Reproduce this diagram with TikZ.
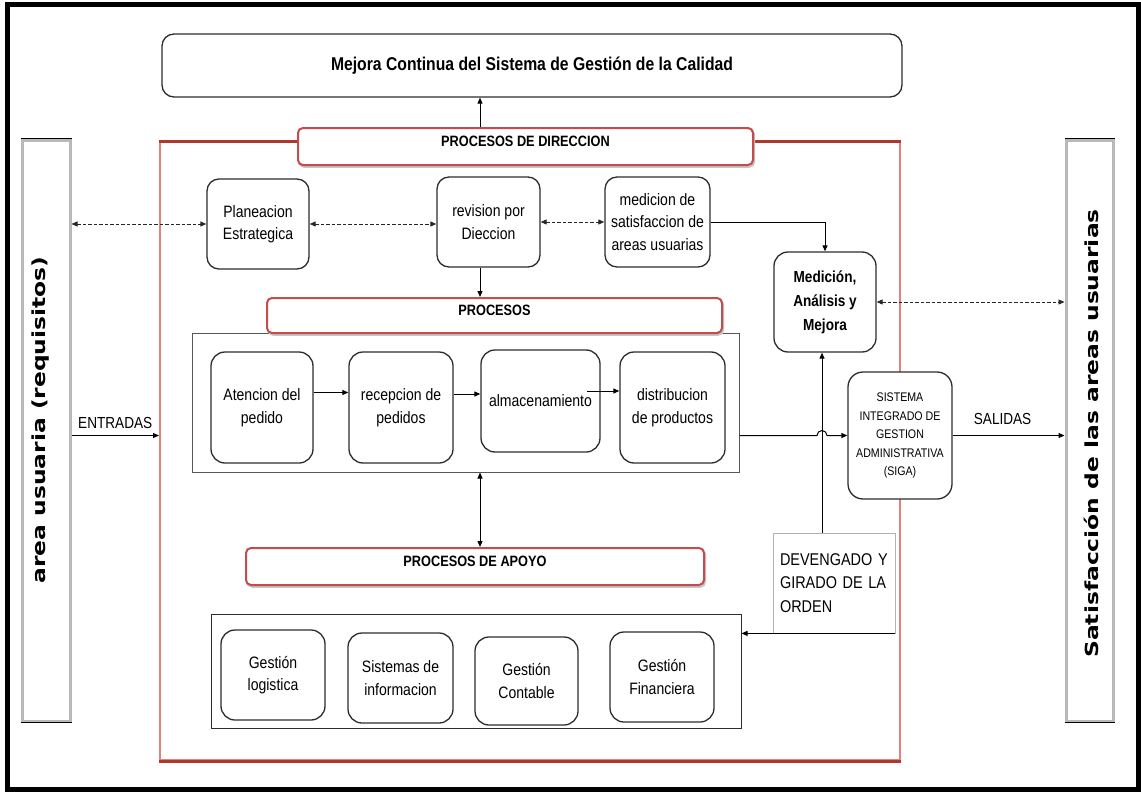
\documentclass[tikz,border=0pt]{standalone}
\usepackage{fontspec}
\usetikzlibrary{arrows.meta,calc}
\setmainfont{Liberation Sans}
\newfontfamily\nar[FakeStretch=0.85]{Liberation Sans}
\newfontfamily\widesans[FakeStretch=1.3]{DejaVu Sans}
\definecolor{frametop}{RGB}{176,56,42}
\definecolor{frameside}{RGB}{228,128,126}
\definecolor{hdrred}{RGB}{196,76,76}
\definecolor{boxline}{RGB}{45,45,45}
\begin{document}
\begin{tikzpicture}[x=1pt,y=-1pt,
  rbox/.style={draw=boxline, line width=1.3pt, rounded corners=12pt, fill=white,
    inner sep=0pt, align=center, font=\nar\fontsize{16.5}{22.5}\selectfont},
  hdr/.style={draw=hdrred, line width=2pt, rounded corners=5pt, fill=white,
    inner xsep=0pt, inner ysep=0pt, font=\nar\bfseries\fontsize{15}{18}\selectfont,
    preaction={draw=gray!45, line width=2pt, transform canvas={shift={(1.2pt,-1.8pt)}}}},
  container/.style={draw=boxline, line width=1pt, fill=white, inner sep=0pt},
  sidebox/.style={draw=gray!55, line width=3pt, fill=white, inner sep=0pt},
  sidetext/.style={rotate=90, font=\widesans\bfseries\fontsize{18}{20}\selectfont},
  lbl/.style={font=\nar\fontsize{16}{19}\selectfont, inner sep=0pt},
  tip/.tip={Triangle[length=6pt,width=5pt]},
  arr/.style={-tip, line width=1pt, draw=black},
  biarr/.style={tip-tip, line width=1pt, draw=black},
  darr/.style={tip-tip, line width=0.9pt, draw=black!85, dash pattern=on 3.5pt off 2pt}]

\useasboundingbox (0,0) rectangle (1141,792);
\fill[white] (0,0) rectangle (1141,792);
\draw[black, line width=5pt] (7.5,5) rectangle (1138,789.5);

% helper positions for the shared vertical axis and the crossing line
\coordinate (ax) at (480,0);
\coordinate (vx) at (822,0);

% top banner
\node[rbox, minimum width=740, minimum height=63, font=\nar\bfseries\fontsize{18.5}{22}\selectfont]
  (top) at (532,65.5) {Mejora Continua del Sistema de Gestión de la Calidad};

% red frame of the process map
\node[draw=frameside, line width=2pt, minimum width=740, minimum height=618, inner sep=0pt]
  (frame) at (530,451) {};
\draw[frametop, line width=3pt] (frame.north west) -- (frame.north east);
\draw[frametop, line width=3pt] (frame.south west) -- (frame.south east);

% side columns
\node[sidebox, minimum width=48, minimum height=581] (lbox) at (46,430.5) {};
\draw[black, line width=1.2pt] (lbox.north west) -- (lbox.north east);
\draw[black, line width=1.2pt] (lbox.south west) -- (lbox.south east);
\node[sidetext] (ltxt) at (41,420) {area usuaria (requisitos)};

\node[sidebox, minimum width=47, minimum height=581] (rbox) at (1089.5,430.5) {};
\draw[black, line width=1.2pt] (rbox.north west) -- (rbox.north east);
\draw[black, line width=1.2pt] (rbox.south west) -- (rbox.south east);
\node[sidetext] (rtxt) at (1091,433.5) {Satisfacción de las areas usuarias};

% direction processes
\node[hdr, minimum width=455, text height=18.5pt, text depth=18.5pt] (dirh) at (525.5,146.5) {PROCESOS DE DIRECCION};
\node[rbox, minimum width=102, minimum height=90] (plan) at (258,224) {Planeacion\\Estrategica};
\node[rbox, minimum width=103, minimum height=90] (rev) at (488.5,222) {revision por\\Dieccion};
\node[rbox, minimum width=105, minimum height=90] (sat) at (657.5,222) {medicion de\\satisfaccion de\\areas usuarias};
\node[rbox, minimum width=102, minimum height=100, rounded corners=14pt,
  font=\nar\bfseries\fontsize{16}{24}\selectfont] (med) at (825,302) {Medición,\\Análisis y\\Mejora};

% operative processes
\node[container, draw=boxline!80, minimum width=547, minimum height=139] (proc) at (465.5,402.5) {};
\node[hdr, minimum width=455, text height=17.5pt, text depth=17.5pt] (proch) at (494.5,315.5) {PROCESOS};
\node[rbox, rounded corners=14pt, minimum width=102, minimum height=111] (aten) at (262,407.5) {Atencion del\\pedido};
\node[rbox, rounded corners=14pt, minimum width=104, minimum height=111] (rec) at (401,407.5) {recepcion de\\pedidos};
\node[rbox, rounded corners=14pt, minimum width=119, minimum height=102] (alm) at (540.5,401) {almacenamiento};
\node[rbox, rounded corners=14pt, minimum width=105, minimum height=111] (dist) at (672.5,407.5) {distribucion\\de productos};

% administrative system
\node[rbox, rounded corners=15pt, minimum width=104, minimum height=127,
  font=\nar\fontsize{12.5}{18.5}\selectfont] (siga) at (900,435.5)
  {SISTEMA\\INTEGRADO DE\\GESTION\\ADMINISTRATIVA\\(SIGA)};

% support processes
\node[hdr, minimum width=458, text height=18.5pt, text depth=18.5pt] (apoh) at (475,566.5) {PROCESOS DE APOYO};
\node[container, minimum width=530, minimum height=114] (apo) at (476,671) {};
\node[rbox, rounded corners=14pt, minimum width=104, minimum height=90] (glog) at (273,675) {Gestión\\logistica};
\node[rbox, rounded corners=14pt, minimum width=105, minimum height=90] (sis) at (400.5,678) {Sistemas de\\informacion};
\node[rbox, rounded corners=14pt, minimum width=103, minimum height=88] (cont) at (526.5,681) {Gestión\\Contable};
\node[rbox, rounded corners=14pt, minimum width=104, minimum height=90] (fin) at (662,677) {Gestión\\Financiera};

% accrual note
\node[draw=gray!60, line width=0.8pt, fill=white, minimum width=122, minimum height=100,
  inner xsep=7pt, inner ysep=0pt, text width=108pt, align=left,
  font=\nar\fontsize{17}{23.5}\selectfont] (dev) at (834,583)
  {DEVENGADO Y\\GIRADO DE LA\\ORDEN};

% dashed information links
\draw[darr] (lbox.east |- plan.west) -- (plan.west);
\draw[darr] (plan.east) -- (rev.west |- plan.east);
\draw[darr] (rev.east) -- (sat.west);
\draw[darr] (med.east) -- (rbox.west |- med.east);

% solid flows
\draw[arr] (ax |- dirh.north) -- (ax |- top.south);
\draw[arr] (ax |- rev.south) -- (ax |- proch.north);
\draw[biarr] (ax |- proc.south) -- (ax |- apoh.north);
\draw[arr] (sat.east) -| (med.north);

\coordinate (a1) at ([yshift=15pt]aten.east);
\coordinate (a2) at ([yshift=13.5pt]rec.east);
\coordinate (a3) at ([xshift=-14pt,yshift=10pt]alm.east);
\draw[arr] (a1) -- (a1 -| rec.west);
\draw[arr] (a2) -- (a2 -| alm.west);
\draw[arr] (a3) -- (a3 -| dist.west);

\draw[arr] (vx |- dev.north) -- (vx |- med.south);
\draw[arr] (proc.east |- siga.west) -- ($(vx |- siga.west)+(-5,0)$)
  arc[start angle=180, end angle=360, radius=5] -- (siga.west);
\draw[arr] (siga.east) -- (rbox.west |- siga.east);
\draw[arr] (lbox.east |- siga.west) -- (frame.west |- siga.west);
\draw[arr] (dev.south east) -- (apo.east |- dev.south east);

% flow labels
\node[lbl, anchor=south] (ent) at ($(lbox.east |- siga.west)!0.5!(frame.west |- siga.west)+(0,-7)$) {ENTRADAS};
\node[lbl, anchor=south] (sal) at ($(siga.east)!0.5!(rbox.west |- siga.east)+(-6,-11)$) {SALIDAS};
\end{tikzpicture}
\end{document}
